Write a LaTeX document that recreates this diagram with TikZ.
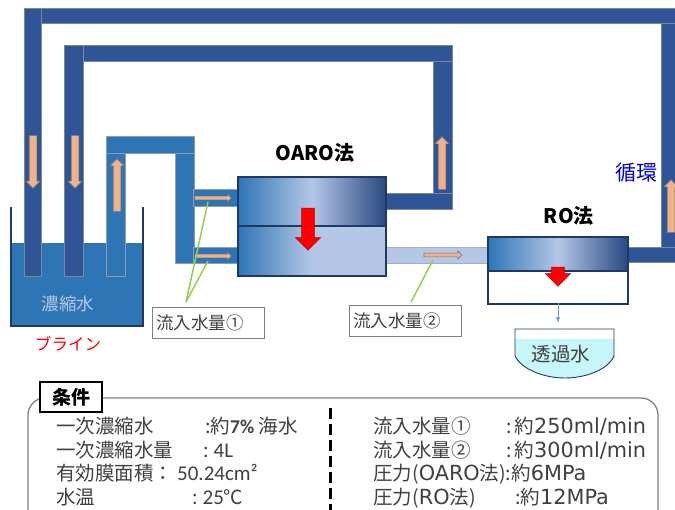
\documentclass[tikz,border=0pt]{standalone}
\usepackage{fontspec}
\usepackage{xcolor}
\usetikzlibrary{arrows.meta,positioning,shapes.arrows}
\setmainfont{Noto Sans CJK JP}
\newfontfamily\narrowlat{Carlito}
\newfontfamily\widelat{DejaVu Sans}
\definecolor{pipedark}{HTML}{2F5597}
\definecolor{pipelight}{HTML}{2E75B6}
\definecolor{pipepale}{HTML}{B4C7E7}
\definecolor{navy}{HTML}{1F3864}
\definecolor{peach}{HTML}{F4B183}
\definecolor{leader}{HTML}{92D050}
\definecolor{permeate}{HTML}{C6F6FA}
\definecolor{txtgray}{HTML}{404040}
\newcommand{\sz}[1]{\fontsize{#1}{#1}\selectfont}
\newcommand{\lat}[1]{{\widelat\sz{20.8}#1}}
\newcommand{\nlat}[1]{{\narrowlat\sz{21}#1}}

\begin{document}
\begin{tikzpicture}[x=1pt,y=-1pt,>=Latex,
  darkpipe/.style={draw=navy!60,fill=pipedark,line width=0.5pt},
  lightpipe/.style={draw=navy!50,fill=pipelight,line width=0.5pt},
  palepipe/.style={draw=navy!40,fill=pipepale,line width=0.5pt},
  flow/.style={single arrow,draw=navy!70,fill=peach,line width=0.6pt,inner xsep=0pt,
               inner ysep=3.5pt,single arrow head extend=3.5pt,anchor=center},
  slimflow/.style={flow,inner ysep=1.6pt,single arrow head extend=2.2pt},
  press/.style={single arrow,draw=red!70!black,fill=red,line width=0.5pt,inner xsep=0pt,
                inner ysep=6.2pt,single arrow head extend=6.2pt,rotate=270,anchor=center},
  upper/.style={draw=navy,line width=1.8pt,left color=pipelight,right color=pipedark!85!black,
                middle color=pipepale,anchor=north west,inner sep=0pt},
  lower/.style={draw=navy,line width=1.8pt,left color=pipelight,right color=pipepale,
                middle color=pipepale,anchor=north west,inner sep=0pt},
  tagbox/.style={draw=gray,line width=0.8pt,fill=white,anchor=north west,inner ysep=0pt,
                 inner xsep=4pt,text width=104pt,align=left,minimum height=31pt,
                 text=txtgray,font=\sz{17.5}},
  title/.style={font=\sz{20}\bfseries,text=black},
  leaderline/.style={draw=leader,line width=1.5pt},
  row/.style={anchor=base west,inner sep=0pt,text=txtgray,font=\sz{19.5}}]
\clip (0,0) rectangle (675,510);

% pipes from the OARO module back to the tank
\draw[palepipe] (385,247) rectangle (487,263);
\draw[darkpipe] (41,8) rectangle (675,23);
\draw[darkpipe] (661,23) rectangle (675,247);
\draw[darkpipe] (626,247) rectangle (675,262);
\draw[darkpipe] (80,45) rectangle (452,61);
\draw[darkpipe] (433,61) rectangle (452,193);
\draw[darkpipe] (385,193) rectangle (452,209);

% tank
\fill[pipelight] (11,243) rectangle (143,326);
\draw[navy,line width=1.8pt] (11,207) -- (11,326) -- (143,326) -- (143,207);
\draw[darkpipe] (24,8) rectangle (41,276);
\draw[darkpipe] (64,45) rectangle (83,276);
\draw[lightpipe] (106,153) rectangle (125,276);
\draw[lightpipe] (106,136) rectangle (194,153);
\draw[lightpipe] (175,153) rectangle (194,263);
\draw[lightpipe] (193,189) rectangle (237,206);
\draw[lightpipe] (193,247) rectangle (237,263);

% modules
\node[lower,minimum width=148pt,minimum height=50pt] (oarolow) at (237,225) {};
\node[upper,minimum width=148pt,minimum height=49pt] (oaroup) at (237,176) {};
\node[draw=navy,line width=1.8pt,fill=white,anchor=north west,inner sep=0pt,
      minimum width=140pt,minimum height=33pt] (rolow) at (487,270) {};
\node[upper,minimum width=140pt,minimum height=34pt] (roup) at (487,236) {};
\node[title,above=10pt of oaroup,xshift=3pt] (oarolabel) {OARO法};
\node[title,above=7pt of roup,xshift=11pt] (rolabel) {RO法};

% flow arrows
\node[flow,minimum height=53pt,rotate=270] (fa) at (33,160) {};
\node[flow,minimum height=53pt,rotate=270] (fb) at (75,160) {};
\node[flow,minimum height=53pt,rotate=90] (fc) at (117,187) {};
\node[slimflow,minimum height=37pt] (fd) at (212,198) {};
\node[slimflow,minimum height=37pt] (fe) at (212,256) {};
\node[flow,minimum height=53pt,rotate=90] (ff) at (442,165) {};
\node[flow,minimum height=53pt,rotate=90] (fg) at (671,208) {};
\node[slimflow,minimum height=38pt] (fh) at (442,255) {};
\node[press,minimum height=42pt] (pa) at (308,226) {};
\node[press,minimum height=19pt] (pb) at (558,273.5) {};

% permeate
\coordinate (dripend) at (558,323);
\draw[->,draw=pipelight!70,line width=0.6pt] (558,303) -- (dripend);
\fill[permeate] (515,339) -- (515,356) .. controls (522,370) and (545,378) .. (565,378)
  .. controls (585,378) and (608,370) .. (614,356) -- (614,339) -- cycle;
\draw[navy,line width=0.9pt] (515,329) -- (515,356) .. controls (522,370) and (545,378) .. (565,378)
  .. controls (585,378) and (608,370) .. (614,356) -- (614,329) -- cycle;
\node[text=txtgray,font=\sz{19.5}] (permeate) at (561,354) {透過水};

% labels
\node[text=pipepale,font=\sz{17.5}] (brine) at (68,304) {濃縮水};
\node[text=red,font=\sz{16.5}] (brinelabel) at (68,344) {ブライン};
\node[text=blue!85!black,font=\sz{21}] (loop) at (636,173) {循環};
\node[tagbox] (tagone) at (152,307) {流入水量①};
\node[tagbox] (tagtwo) at (349,305) {流入水量②};
\coordinate (apexone) at (186,302);
\coordinate (apextwo) at (411,302);
\draw[leaderline] (apexone) -- (208,202);
\draw[leaderline] (apexone) -- (208,261);
\draw[leaderline] (apextwo) -- (433,260);

% conditions
\draw[gray,line width=1.3pt,rounded corners=17pt] (28,398) rectangle (658,530);
\node[draw=black,line width=1.2pt,fill=white,minimum width=62pt,minimum height=30pt,
      inner sep=0pt,font=\sz{19}\bfseries] (condhead) at (71,397) {条件};
\coordinate (divtop) at (330,408);
\coordinate (divend) at (330,510);
\draw[black,line width=3pt,dash pattern=on 11pt off 5pt] (divtop) -- (divend);

\node[row] (la) at (56,434) {一次濃縮水};
\node[row] (lav) at (205,434) {:約{\narrowlat\bfseries 7\%} 海水};
\node[row] (lb) at (56,457) {一次濃縮水量};
\node[row] (lbv) at (203,457) {:\hspace{5pt}\nlat{4L}};
\node[row] (lc) at (56,481) {有効膜面積：};
\node[row] (lcv) at (177,481) {\nlat{50.24cm²}};
\node[row] (ld) at (56,504) {水温};
\node[row] (ldv) at (192,504) {:\hspace{5pt}\nlat{25}℃};

\node[row] (ra) at (373,434) {流入水量①};
\node[row] (rav) at (506,434) {:\hspace{3pt}約\lat{250ml/min}};
\node[row] (rb) at (373,457) {流入水量②};
\node[row] (rbv) at (506,457) {:\hspace{3pt}約\lat{300ml/min}};
\node[row] (rc) at (373,481) {圧力(\lat{OARO}法):約\lat{6MPa}};
\node[row] (rd) at (373,504) {圧力(\lat{RO}法)};
\node[row] (rdv) at (515,504) {:約\lat{12MPa}};
\end{tikzpicture}
\end{document}
